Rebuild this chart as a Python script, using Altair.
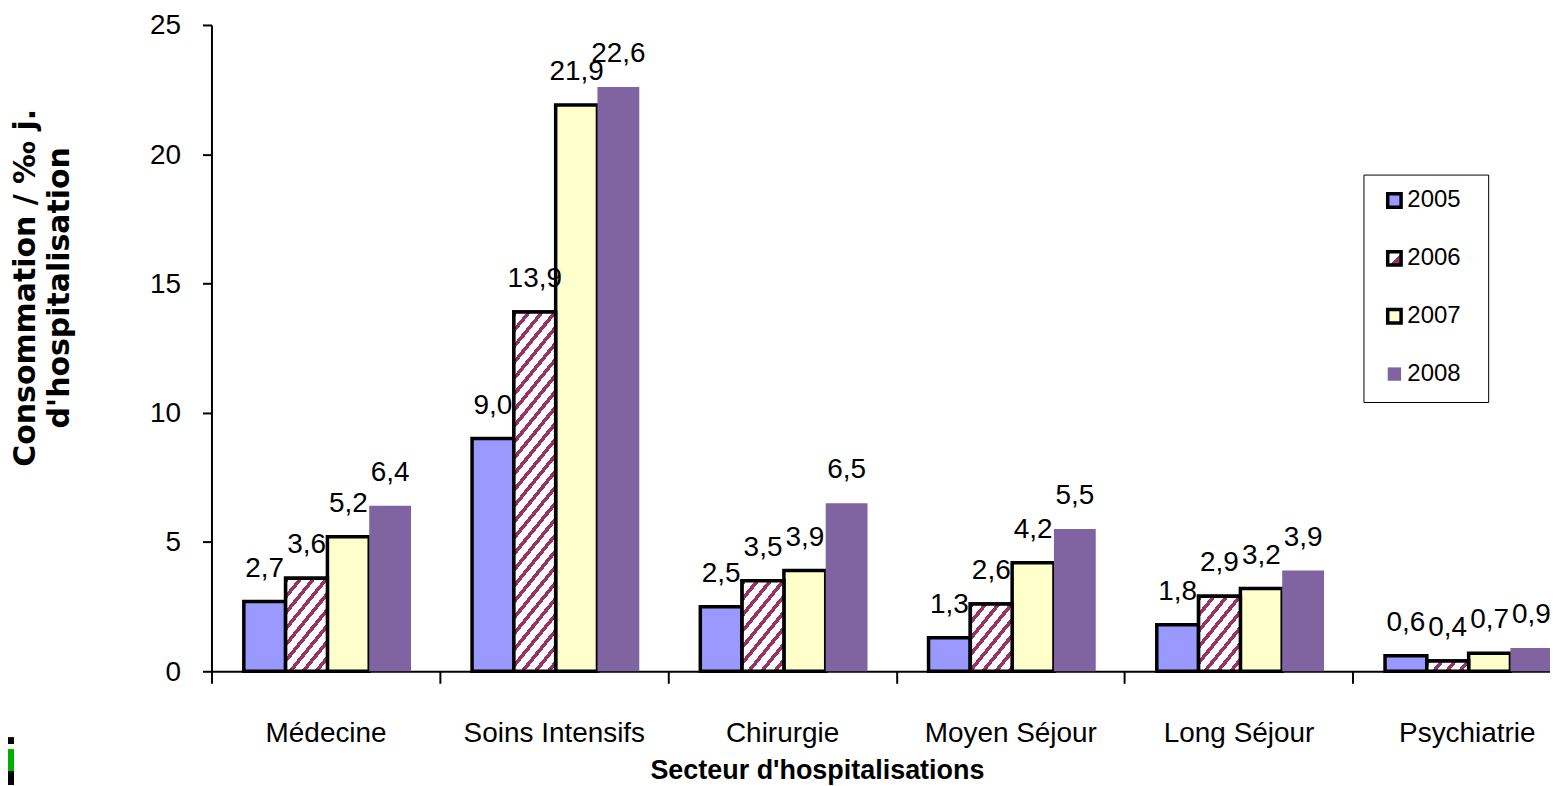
import altair as alt
import pandas as pd

categories = ["Médecine", "Soins Intensifs", "Chirurgie", "Moyen Séjour", "Long Séjour", "Psychiatrie"]
years = ["2005", "2006", "2007", "2008"]
v2005 = [2.7, 9.0, 2.5, 1.3, 1.8, 0.6]
v2006 = [3.6, 13.9, 3.5, 2.6, 2.9, 0.4]
v2007 = [5.2, 21.9, 3.9, 4.2, 3.2, 0.7]
v2008 = [6.4, 22.6, 6.5, 5.5, 3.9, 0.9]
fills = ["#9999FF", "#993366", "#FFFFCC", "#8064A2"]
strokes = ["#000000", "#000000", "#000000", "#FFFFFF00"]

SANS = "Liberation Sans"
PX_PER_UNIT = 648 / 25
BAR_W = 41.8
PERIOD_X, PERIOD_Y = 13.0, 16.0
HATCH = "#993366"

rows = []
for y, vals in zip(years, [v2005, v2006, v2007, v2008]):
    for c, v in zip(categories, vals):
        rows.append({"cat": c, "year": y, "v": v, "label": f"{v:.1f}".replace(".", ",")})
df = pd.DataFrame(rows)


def hatch(h):
    w = BAR_W
    n = w / PERIOD_X + h / PERIOD_Y
    a = (w / PERIOD_X) / n
    b = (h / PERIOD_Y) / n
    m = a * a + b * b
    stops = []
    k = int(n) + 1
    for i in range(k):
        for off, col in [(0.0, HATCH), (0.36, HATCH), (0.36, "#FFFFFF"), (1.0, "#FFFFFF")]:
            t = (i + off) / n
            if t <= 1:
                stops.append({"offset": round(t, 4), "color": col})
    return {"gradient": "linear", "x1": 0, "y1": 0, "x2": round(a / m, 4), "y2": round(b / m, 4), "stops": stops}


x = alt.X(
    "cat:N",
    sort=categories,
    scale=alt.Scale(domain=categories, range=[0, 1373], paddingInner=0, paddingOuter=0),
    axis=alt.Axis(
        title="Secteur d'hospitalisations",
        titleFont=SANS, titleFontWeight="bold", titleFontSize=27, titleColor="#000",
        titleX=607, titleY=107, titleAlign="center", titleBaseline="alphabetic",
        labelFont=SANS, labelFontSize=28, labelColor="#000", labelAngle=0, labelPadding=36,
        labelOverlap=False,
        tickBand="extent", tickSize=12, tickWidth=2, tickColor="#000",
        domainColor="#000", domainWidth=2, grid=False,
    ),
)
xo = alt.XOffset("year:N", sort=years, scale=alt.Scale(domain=years, paddingInner=0, paddingOuter=0.73, align=0.53))
y = alt.Y(
    "v:Q",
    scale=alt.Scale(domain=[0, 25], nice=False),
    axis=alt.Axis(
        title=["Consommation / ‰ j.", "d'hospitalisation"],
        titleFont="DejaVu Sans", titleFontWeight="bold", titleFontSize=30, titleColor="#000",
        titleX=-171, titleY=263, titleAlign="center", titleLineHeight=34, titleAngle=-90,
        labelFont=SANS, labelFontSize=28, labelColor="#000", labelPadding=22, labelOffset=1,
        values=[0, 5, 10, 15, 20, 25], tickSize=9, tickWidth=2, tickColor="#000",
        domainColor="#000", domainWidth=2, grid=False,
    ),
)

legend_hatch = ("{gradient:'linear',x1:0,y1:0,x2:1,y2:1,stops:["
                "{offset:0,color:'#993366'},{offset:0.14,color:'#993366'},{offset:0.14,color:'#fff'},"
                "{offset:0.55,color:'#fff'},{offset:0.55,color:'#993366'},{offset:1,color:'#993366'}]}")
legend_cfg = alt.Legend(
    orient="none", legendX=1155, legendY=150, title=" ",
    titleOrient="right", titlePadding=14, titleFontSize=1,
    padding=14, strokeColor="#000", fillColor="#fff",
    symbolType="square", symbolSize=180, symbolStrokeWidth=3.5, symbolOffset=5,
    labelFont=SANS, labelFontSize=24, labelColor="#000", labelOffset=1, rowPadding=30,
    values=years,
)
fill_range = [fills[0], alt.expr(legend_hatch), fills[2], fills[3]]

bars = alt.Chart(df).mark_bar(strokeWidth=3.5).encode(
    x=x, xOffset=xo, y=y,
    fill=alt.Fill("year:N", sort=years, scale=alt.Scale(domain=years, range=fill_range), legend=legend_cfg),
    stroke=alt.Stroke("year:N", sort=years, scale=alt.Scale(domain=years, range=strokes), legend=legend_cfg),
)

hatched = []
for c, v in zip(categories, v2006):
    sub = df[(df.year == "2006") & (df.cat == c)]
    hatched.append(
        alt.Chart(sub).mark_bar(stroke="#000", strokeWidth=3.5, fill=hatch(v * PX_PER_UNIT)).encode(x=x, xOffset=xo, y=y)
    )

labels = alt.Chart(df).mark_text(font=SANS, fontSize=28, color="#000", dy=-25, baseline="alphabetic").encode(
    x=x, xOffset=xo, y=y, text="label:N"
)

logo_top = [738, 745, 750, 772]
logo_bot = [745, 750, 772, 786]
logo_col = ["#000000", "#FFFFFF", "#00B000", "#000000"]
logo = [
    alt.Chart(pd.DataFrame({"a": [1]})).mark_rect(color=col).encode(
        x=alt.value(-204), x2=alt.value(-198), y=alt.value(t - 24), y2=alt.value(b - 24)
    )
    for t, b, col in zip(logo_top, logo_bot, logo_col)
]

chart = alt.layer(bars, *hatched, labels, *logo).properties(
    width=1342, height=648,
    autosize=alt.AutoSizeParams(type="none"),
    padding={"left": 204, "top": 16, "right": 0, "bottom": 114},
    background="#ffffff",
).configure_view(stroke=None).configure_axis(labelLimit=400, titleLimit=600)

chart.save("out.html", embed_options={"renderer": "svg", "actions": False})
